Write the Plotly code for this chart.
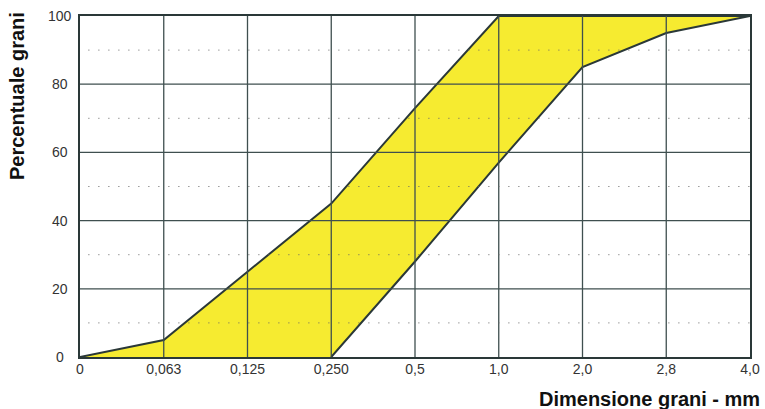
import plotly.graph_objects as go

sizes = ["0", "0,063", "0,125", "0,250", "0,5", "1,0", "2,0", "2,8", "4,0"]
upper = [0, 5, 25, 45, 73, 100, 100, 100, 100]
lower = [0, 0, 0, 0, 28, 57, 85, 95, 100]
y_ticks = [0, 20, 40, 60, 80, 100]
dotted_levels = [10, 30, 50, 70, 90]

idx = list(range(len(sizes)))
start_low = 3  # lower curve leaves zero at 0,250

poly_x = idx + idx[::-1]
poly_y = upper + lower[::-1]

GRID = "#3f4f4f"
LINE = "#2a3838"
YELLOW = "#f6eb30"
FONT = "Liberation Sans, Arial"
W, H = 765, 409
ML, MR, MT, MB = 80, 15, 16, 52
PW = W - ML - MR
PH = H - MT - MB

fig = go.Figure()
fig.add_trace(go.Scatter(x=poly_x, y=poly_y, fill="toself", fillcolor=YELLOW,
                         mode="none", hoverinfo="skip", showlegend=False))

shapes = []
for i in idx[1:-1]:
    shapes.append(dict(type="line", xref="x", yref="y", x0=i, x1=i, y0=0, y1=100,
                       line=dict(color=GRID, width=1.3), layer="above"))
for v in y_ticks[1:-1]:
    shapes.append(dict(type="line", xref="x", yref="y", x0=0, x1=idx[-1], y0=v, y1=v,
                       line=dict(color=GRID, width=1.3), layer="above"))
for v in dotted_levels:
    shapes.append(dict(type="line", xref="x", yref="y", x0=0.1, x1=idx[-1], y0=v, y1=v,
                       line=dict(color="#666666", width=1, dash="1px,9px"), layer="above"))
fig.update_layout(shapes=shapes)

fig.add_trace(go.Scatter(x=idx, y=upper, mode="lines", line=dict(color=LINE, width=2),
                         hoverinfo="skip", showlegend=False))
fig.add_trace(go.Scatter(x=idx[start_low:], y=lower[start_low:], mode="lines",
                         line=dict(color=LINE, width=2), hoverinfo="skip", showlegend=False))

fig.update_xaxes(range=[0, idx[-1]], tickvals=idx, ticktext=sizes, showgrid=False,
                 zeroline=False, showline=True, mirror=True, linecolor=LINE, linewidth=2,
                 ticks="", automargin=False, ticklabelstandoff=-2,
                 tickfont=dict(family=FONT, size=14, color="#333333"),
                 layer="above traces")
fig.update_yaxes(range=[0, 100], tickvals=y_ticks, showticklabels=False, showgrid=False,
                 zeroline=False, showline=True, mirror=True, linecolor=LINE, linewidth=2,
                 ticks="", automargin=False, layer="above traces")

annotations = []
for v in y_ticks:
    annotations.append(dict(text=str(v), xref="paper", yref="y", x=(60 - ML) / PW, y=v,
                            showarrow=False, xanchor="center", yanchor="middle",
                            font=dict(family=FONT, size=14, color="#333333")))
annotations.append(dict(text="<b>Percentuale grani</b>", xref="paper", yref="paper",
                        x=(17 - ML) / PW, y=(H - MB - 96) / PH,
                        textangle=-90, showarrow=False, xanchor="center", yanchor="middle",
                        font=dict(family=FONT, size=20, color="#111111")))
annotations.append(dict(text="<b>Dimensione grani - mm</b>", xref="paper", yref="paper",
                        x=(762 - ML) / PW, y=(H - MB - 399) / PH,
                        showarrow=False, xanchor="right", yanchor="middle",
                        font=dict(family=FONT, size=20, color="#111111")))

fig.update_layout(
    width=W, height=H,
    margin=dict(l=ML, r=MR, t=MT, b=MB, autoexpand=False),
    paper_bgcolor="white", plot_bgcolor="white",
    annotations=annotations,
)

fig.write_html("out.html", config={"displayModeBar": False},
               post_script="document.body.style.margin='0';")
